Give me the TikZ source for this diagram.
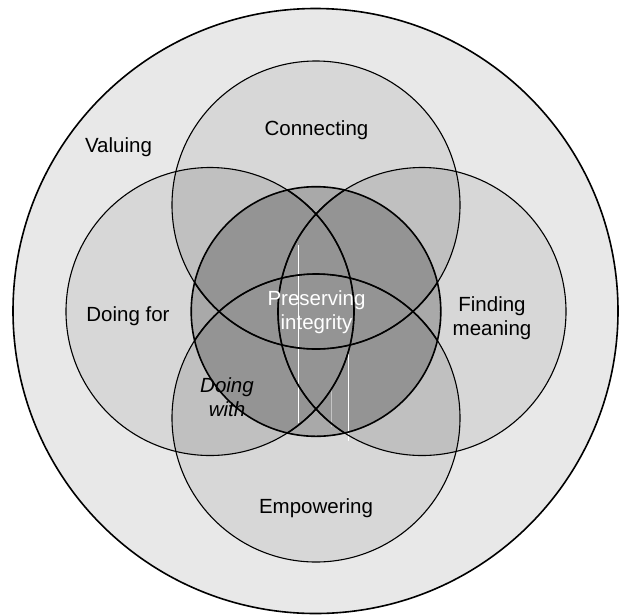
\documentclass[tikz,border=0pt]{standalone}
\usepackage{fontspec}
\setmainfont{Liberation Sans}
\definecolor{valfill}{HTML}{E8E8E8}
\definecolor{onefill}{HTML}{D7D7D7}
\definecolor{twofill}{HTML}{C0C0C0}
\definecolor{corefill}{HTML}{A9A9A9}
\definecolor{deepfill}{HTML}{949494}
\begin{document}
\begin{tikzpicture}[x=1pt,y=-1pt,
  txt/.style={font=\fontsize{20.5}{23.5}\selectfont, align=center, inner sep=0pt},
  outline/.style={draw=black, line width=1.1pt},
  bold outline/.style={draw=black, line width=1.6pt},
  streak/.style={draw=white, line width=0.7pt},
]
\def\outerr{302.5pt}
\def\satr{144pt}
\def\corer{124.8pt}
\useasboundingbox (0,0) rectangle (626,614);

% centres of the circles
\coordinate (V) at (315.5,311);   % Valuing
\coordinate (C) at (316,205);     % Connecting
\coordinate (D) at (210,311.5);   % Doing for
\coordinate (F) at (422,311.5);   % Finding meaning
\coordinate (E) at (316,418);     % Empowering
\coordinate (P) at (316,311.5);   % Preserving integrity

% outer ring
\fill[valfill] (V) circle[radius=\outerr];

% the four surrounding circles and their overlaps
\foreach \c in {C,D,F,E}
  \fill[onefill] (\c) circle[radius=\satr];
\foreach \a/\b in {C/D,C/F,D/E,F/E,C/E,D/F}{
  \begin{scope}
    \clip (\a) circle[radius=\satr];
    \fill[twofill] (\b) circle[radius=\satr];
  \end{scope}
}

% core circle and its overlaps
\fill[corefill] (P) circle[radius=\corer];
\foreach \a/\b in {C/D,C/F,D/E,F/E,C/E,D/F}{
  \begin{scope}
    \clip (P) circle[radius=\corer];
    \clip (\a) circle[radius=\satr];
    \fill[deepfill] (\b) circle[radius=\satr];
  \end{scope}
}

% thin light streaks across the core
\coordinate (s1a) at (298.3,245);  \coordinate (s1b) at (298.3,423);
\coordinate (s2a) at (348.3,348);  \coordinate (s2b) at (348.3,441);
\coordinate (s3a) at (331.7,390);  \coordinate (s3b) at (331.7,427);
\draw[streak] (s1a) -- (s1b);
\draw[streak] (s2a) -- (s2b);
\draw[streak, opacity=0.45] (s3a) -- (s3b);

% outlines
\draw[bold outline] (V) circle[radius=\outerr];
\foreach \c in {C,D,F,E}
  \draw[outline] (\c) circle[radius=\satr];
\begin{scope}
  \clip (P) circle[radius=\corer];
  \foreach \c in {C,D,F,E}
    \draw[bold outline] (\c) circle[radius=\satr];
\end{scope}
\draw[bold outline] (P) circle[radius=\corer];

% labels
\node[txt] (valuing) at (118.5,147) {Valuing};
\node[txt] (connecting) at (316.5,130) {Connecting};
\node[txt] (doingfor) at (128,316) {Doing for};
\node[txt] (finding) at (492,318) {Finding\\meaning};
\node[txt, text=white] (integrity) at (316.5,312) {Preserving\\integrity};
\node[txt, font=\fontsize{20.5}{23.5}\selectfont\itshape] (doingwith) at (227,397) {Doing\\with};
\node[txt] (empowering) at (316,508) {Empowering};
\end{tikzpicture}
\end{document}
